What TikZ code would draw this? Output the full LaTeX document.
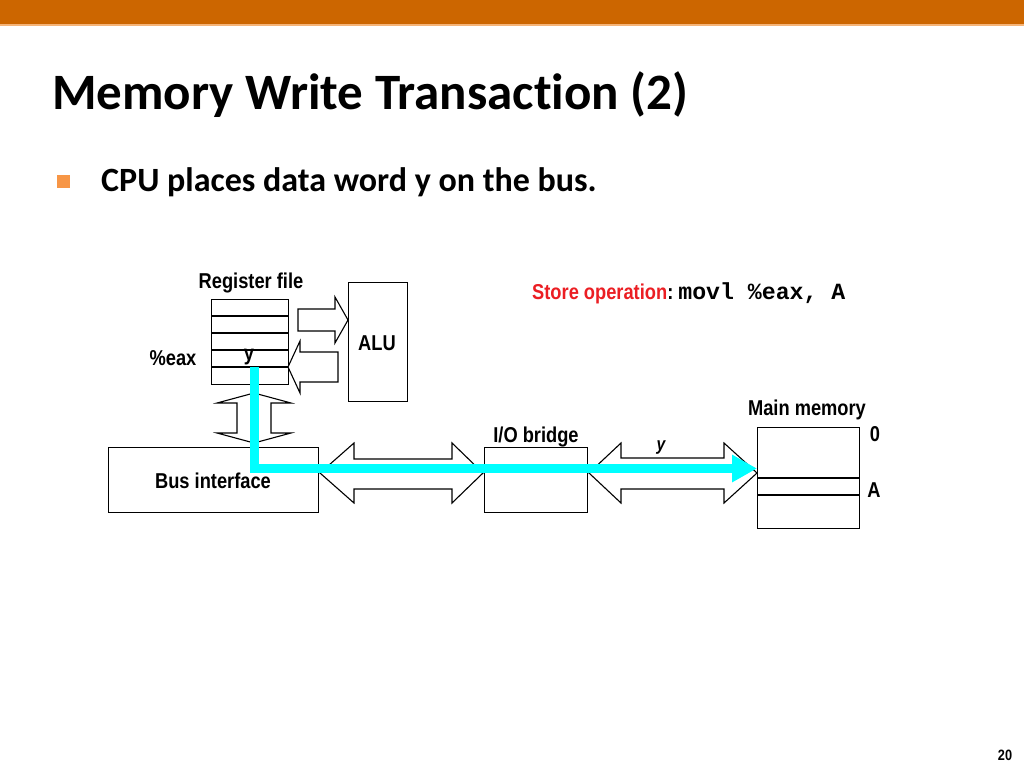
\documentclass[tikz,border=0pt]{standalone}
\usepackage{fontspec}
\usetikzlibrary{arrows.meta}
\setmainfont{Carlito}[Ligatures=NoCommon]
\newfontfamily\lab[FakeStretch=0.85]{Liberation Sans}
\newfontfamily\monob{Liberation Mono}
\definecolor{barorange}{RGB}{204,102,0}
\definecolor{barline}{RGB}{245,180,120}
\definecolor{bulletorange}{RGB}{247,150,70}
\definecolor{storered}{RGB}{235,30,35}
\definecolor{buscyan}{RGB}{0,255,255}
\tikzset{
  box/.style={draw=black, line width=1.2pt, fill=white, inner sep=0pt},
  blockarrow/.style={draw=black, line width=1.1pt, fill=white, line join=miter},
  lbl/.style={font=\lab\bfseries\fontsize{21.5}{22}\selectfont, inner sep=0pt},
  cyanbus/.style={draw=buscyan, line width=9pt, line join=miter,
    -{Triangle[length=25pt,width=26pt]}},
}
\begin{document}
\begin{tikzpicture}[x=1pt,y=-1pt]
\useasboundingbox (0,0) rectangle (1024,768);
% header bar
\fill[barorange] (0,0) rectangle (1024,24);
\fill[barline] (0,24) rectangle (1024,26);
% title
\node[anchor=base west, inner sep=0pt, font=\bfseries\fontsize{51}{56}\selectfont] (title) at (52,109) {Memory Write Transaction (2)};
% bullet
\node[fill=bulletorange, minimum size=13pt, inner sep=0pt] (bul) at (63.5,181.5) {};
\node[anchor=base west, inner sep=0pt, font=\bfseries\fontsize{34}{38}\selectfont] (btext) at (101,191) {CPU places data word y on the bus.};

% register file
\node[box, minimum width=77pt, minimum height=85pt, anchor=north west] (rf) at (211,299) {};
\draw[line width=1.2pt] (211,316) -- (288,316);
\draw[line width=1.2pt] (211,333) -- (288,333);
\draw[line width=1.2pt] (211,350) -- (288,350);
\draw[line width=1.2pt] (211,367) -- (288,367);
\node[lbl] (rflabel) at (251,283) {Register file};
\node[lbl] (eax) at (173,358) {\%eax};
\node[lbl] (ycell) at (249,357) {y};

% ALU
\node[box, minimum width=59pt, minimum height=119pt, anchor=north west] (alu) at (348,282) {};
\node[lbl] (alulabel) at (377,343) {ALU};

% arrow register file -> ALU
\draw[blockarrow] (298,309) -- (335,309) -- (335,297) -- (348,320) -- (335,343) -- (335,331) -- (298,331) -- cycle;
% arrow ALU -> register file
\draw[blockarrow] (338,352) -- (300,352) -- (300,341) -- (288,367) -- (300,393) -- (300,382) -- (338,382) -- cycle;

% vertical double arrow
\draw[blockarrow] (254,393) -- (291,403) -- (271,403) -- (271,433) -- (291,433) -- (254,443) -- (217,433) -- (237,433) -- (237,403) -- (217,403) -- cycle;

% bus interface
\node[box, minimum width=210pt, minimum height=65pt, anchor=north west] (bi) at (108,447) {};
\node[lbl] (bilabel) at (213,481) {Bus interface};

% horizontal double arrow 1
\draw[blockarrow] (320,473) -- (354,443) -- (354,459) -- (452,459) -- (452,443) -- (483,473) -- (452,503) -- (452,489) -- (354,489) -- (354,503) -- cycle;

% I/O bridge
\node[box, minimum width=103pt, minimum height=65pt, anchor=north west] (iob) at (484,447) {};
\node[lbl, fill=white, inner xsep=1pt, inner ysep=0pt] (ioblabel) at (536,437) {I/O bridge};

% horizontal double arrow 2
\draw[blockarrow] (589,473) -- (621,443) -- (621,458) -- (724,458) -- (724,443) -- (757,473) -- (724,503) -- (724,489) -- (621,489) -- (621,503) -- cycle;
\node[lbl, font=\lab\bfseries\itshape\fontsize{18.5}{19}\selectfont] (ylabel) at (661,448) {y};

% main memory
\node[box, minimum width=102pt, minimum height=101pt, anchor=north west] (mm) at (757,427) {};
\draw[line width=1.2pt] (757,478) -- (859,478);
\draw[line width=1.2pt] (757,495) -- (859,495);
\node[lbl] (mmlabel) at (807,410) {Main memory};
\node[lbl] (zero) at (875,434) {0};
\node[lbl] (addrA) at (874,490) {A};

% store operation
\node[anchor=base west, inner sep=0pt] (store) at (532,299)
  {{\lab\bfseries\fontsize{21.5}{22}\selectfont\color{storered}Store operation\color{black}:}\hspace{5pt}{\monob\bfseries\fontsize{23.2}{24}\selectfont movl \%eax, A}};

% cyan data path
\coordinate (cstart) at (254,367);
\coordinate (ccorner) at (254,468.5);
\coordinate (cend) at (757,468.5);
\draw[cyanbus] (cstart) -- (ccorner) -- (cend);

% page number
\node[lbl, font=\lab\bfseries\fontsize{15}{16}\selectfont] (pagenum) at (1005,755) {20};
\end{tikzpicture}
\end{document}
